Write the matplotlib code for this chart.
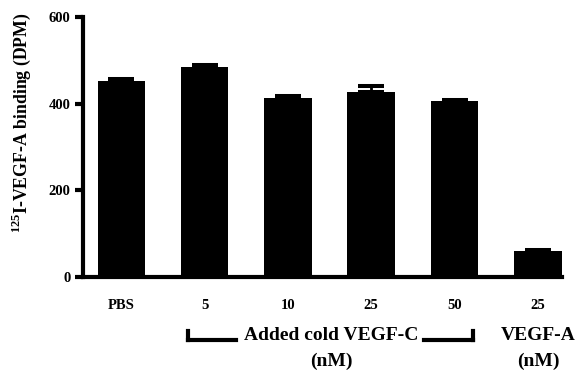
import matplotlib
matplotlib.use("Agg")
import matplotlib.pyplot as plt

categories = ["PBS", "5", "10", "25", "50", "25"]
values = [452, 485, 413, 427, 406, 60]
errors = [5, 5, 6, 14, 3.5, 3]
yticks = [0, 200, 400, 600]

plt.rcParams['font.family'] = ['Liberation Serif', 'DejaVu Serif']
plt.rcParams['font.weight'] = 'bold'
plt.rcParams['mathtext.fontset'] = 'custom'
plt.rcParams['mathtext.rm'] = 'Liberation Serif:bold'
plt.rcParams['mathtext.bf'] = 'Liberation Serif:bold'

fig = plt.figure(figsize=(5.8, 3.72), dpi=100)
ax = fig.add_axes([0.143, 0.255, 0.826, 0.699])

x = list(range(len(categories)))
ax.bar(x, values, width=0.57, color='black', zorder=2)
ax.errorbar(x, values, yerr=[[0]*len(errors), errors], fmt='none', ecolor='black',
            elinewidth=2, capsize=9.4, capthick=2.9, zorder=3)

ax.set_xlim(-0.46, 5.29)
ax.set_ylim(0, 600)
ax.set_yticks(yticks)
ax.set_xticks(x)
ax.set_xticklabels(categories, fontsize=10.5, fontweight='bold')
for lab in ax.get_yticklabels():
    lab.set_fontsize(10.5)
    lab.set_fontweight('bold')
ax.tick_params(axis='y', direction='out', length=6, width=3, pad=3)
ax.tick_params(axis='x', length=0, pad=16)
for s in ['top', 'right']:
    ax.spines[s].set_visible(False)
ax.spines['left'].set_linewidth(3)
ax.spines['bottom'].set_linewidth(3)

ax.set_ylabel(r"$^{\mathrm{125}}$I-VEGF-A binding (DPM)", fontsize=12.8, fontweight='bold')
ax.yaxis.set_label_coords(-0.104, 0.596)

# bracket and group labels (figure coords)
def fx(px):
    return px / 580
def fy(py):
    return 1 - py / 372

lw = 3
fig.add_artist(plt.Line2D([fx(188), fx(236)], [fy(340), fy(340)], color='black', lw=lw))
fig.add_artist(plt.Line2D([fx(188), fx(188)], [fy(340), fy(331)], color='black', lw=lw))
fig.add_artist(plt.Line2D([fx(424), fx(473)], [fy(340), fy(340)], color='black', lw=lw))
fig.add_artist(plt.Line2D([fx(473), fx(473)], [fy(340), fy(331)], color='black', lw=lw))
fs = 14
fig.text(fx(331), fy(336), "Added cold VEGF-C", ha='center', va='center', fontsize=fs, fontweight='bold')
fig.text(fx(331), fy(361), "(nM)", ha='center', va='center', fontsize=fs, fontweight='bold')
fig.text(fx(538), fy(336), "VEGF-A", ha='center', va='center', fontsize=fs, fontweight='bold')
fig.text(fx(538), fy(361), "(nM)", ha='center', va='center', fontsize=fs, fontweight='bold')

fig.savefig("out.png", dpi=100)
